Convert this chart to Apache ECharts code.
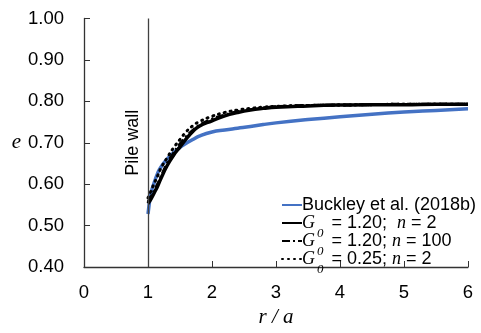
<!DOCTYPE html>
<html>
<head>
<meta charset="utf-8">
<script src="https://cdn.jsdelivr.net/npm/echarts@6/dist/echarts.min.js"></script>
<style>html,body{margin:0;padding:0;background:#fff}#c{width:481px;height:333px}</style>
</head>
<body>
<div id="c"></div>
<script>
var rValues = [1, 1.05, 1.1, 1.15, 1.2, 1.3, 1.4, 1.5, 1.6, 1.7, 1.8, 2.0, 2.2, 2.4, 2.6, 2.8, 3, 3.5, 4, 4.5, 5, 5.5, 6];
var buckley = [0.528, 0.580, 0.605, 0.626, 0.641, 0.661, 0.676, 0.689, 0.699, 0.708, 0.716, 0.726, 0.731, 0.735, 0.739, 0.744, 0.748, 0.756, 0.763, 0.769, 0.774, 0.778, 0.782];
var g120n2 = [0.553, 0.565, 0.580, 0.595, 0.613, 0.645, 0.670, 0.690, 0.710, 0.727, 0.740, 0.753, 0.765, 0.773, 0.779, 0.783, 0.786, 0.789, 0.791, 0.792, 0.792, 0.793, 0.793];
var g120n100 = [0.557, 0.570, 0.585, 0.600, 0.617, 0.650, 0.675, 0.697, 0.715, 0.730, 0.742, 0.757, 0.767, 0.775, 0.780, 0.784, 0.787, 0.790, 0.791, 0.792, 0.793, 0.793, 0.793];
var g025n2 = [0.567, 0.585, 0.603, 0.620, 0.638, 0.664, 0.688, 0.708, 0.727, 0.741, 0.751, 0.764, 0.773, 0.779, 0.783, 0.786, 0.788, 0.790, 0.791, 0.792, 0.793, 0.793, 0.793];
var seriesNames = ['Buckley et al. (2018b)', 'G0 = 1.20;  n = 2', 'G0 = 1.20; n = 100', 'G0 = 0.25; n = 2'];
var legendRich = {
  'Buckley et al. (2018b)': '{t|Buckley et al. (2018b)}{z| }',
  'G0 = 1.20;  n = 2': '{g|G}{s|0}{t| = 1.20;  }{n|n}{t| = 2}',
  'G0 = 1.20; n = 100': '{g|G}{s|0}{t| = 1.20; }{n|n}{t| = 100}',
  'G0 = 0.25; n = 2': '{g|G}{s|0}{t| = 0.25; }{n|n}{t| = 2}'
};
var yTicks = [0.4, 0.5, 0.6, 0.7, 0.8, 0.9, 1.0];
var xTicks = [0, 1, 2, 3, 4, 5, 6];
var pileWallX = 1;

function pairs(ys) { return rValues.map(function (r, i) { return [r, ys[i]]; }); }

var SANS = 'Liberation Sans';
var SERIF = 'Liberation Serif';
var rich = {
  t: { fontFamily: SANS, fontSize: 18, color: '#000' },
  g: { fontFamily: SERIF, fontStyle: 'italic', fontSize: 18, color: '#000' },
  n: { fontFamily: SERIF, fontStyle: 'italic', fontSize: 18, color: '#000' },
  s: { fontFamily: SERIF, fontStyle: 'italic', fontSize: 13, color: '#000', padding: [21, 3, 0, 2] },
  z: { fontSize: 13, width: 0, padding: [21, 0, 0, 0] }
};
var legends = seriesNames.map(function (nm, i) {
  return {
    data: [nm], orient: 'vertical', left: 281, top: 196 + 18 * i,
    itemWidth: 20, itemHeight: 12, padding: 0,
    itemStyle: { opacity: 0 },
    formatter: function (name) { return legendRich[name]; },
    textStyle: { padding: [0, 0, 0, -5], rich: rich }
  };
});

var chart = echarts.init(document.getElementById('c'));
chart.setOption({
  animation: false,
  backgroundColor: '#fff',
  grid: { left: 84, right: 13, top: 18.5, bottom: 61.5 },
  xAxis: {
    type: 'value', min: xTicks[0], max: xTicks[xTicks.length - 1], interval: 1,
    name: 'r / a', nameLocation: 'middle', nameGap: 40,
    nameTextStyle: { fontFamily: SERIF, fontStyle: 'italic', fontSize: 21, color: '#000' },
    axisLine: { lineStyle: { color: '#333', width: 1.3 } },
    axisTick: { inside: true, length: 6, lineStyle: { color: '#333' } },
    axisLabel: { margin: 16, fontFamily: SANS, fontSize: 18.5, color: '#000' },
    splitLine: { show: false }
  },
  yAxis: {
    type: 'value', min: yTicks[0], max: yTicks[yTicks.length - 1], interval: 0.1,
    name: 'e', nameLocation: 'middle', nameRotate: 0, nameGap: 63,
    nameTextStyle: { fontFamily: SERIF, fontStyle: 'italic', fontSize: 21, color: '#000' },
    axisLine: { show: true, lineStyle: { color: '#333', width: 1.3 } },
    axisTick: { show: true, inside: true, length: 6, lineStyle: { color: '#333' } },
    axisLabel: { margin: 20, fontFamily: SANS, fontSize: 18.5, color: '#000', formatter: function (v) { return v.toFixed(2); } },
    splitLine: { show: false }
  },
  legend: legends,
  series: [
    {
      name: seriesNames[0], type: 'line', data: pairs(buckley), smooth: true, symbol: 'none',
      lineStyle: { color: '#4472C4', width: 3.5 }, itemStyle: { color: '#4472C4' },
      markLine: {
        silent: true, symbol: ['none', 'none'],
        lineStyle: { color: '#404040', width: 1.3, type: 'solid' },
        label: { show: true, formatter: 'Pile wall', position: 'insideMiddleTop', distance: 6, fontFamily: SANS, fontSize: 18, color: '#000' },
        data: [{ xAxis: pileWallX }]
      }
    },
    {
      name: seriesNames[1], type: 'line', data: pairs(g120n2), smooth: true, symbol: 'none',
      lineStyle: { color: '#000', width: 3.5 }, itemStyle: { color: '#000' }
    },
    {
      name: seriesNames[2], type: 'line', data: pairs(g120n100), smooth: true, symbol: 'none',
      lineStyle: { color: '#000', width: 3, type: [8, 3, 2, 3] }, itemStyle: { color: '#000' }
    },
    {
      name: seriesNames[3], type: 'line', data: pairs(g025n2), smooth: true, symbol: 'none',
      lineStyle: { color: '#000', width: 3, type: [1, 5], cap: 'round' }, itemStyle: { color: '#000' }
    }
  ]
});
</script>
</body>
</html>
